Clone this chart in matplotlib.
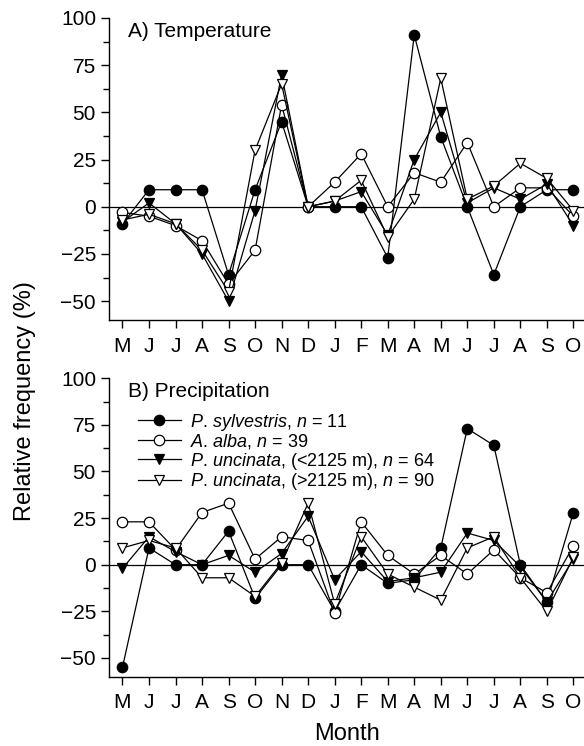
import matplotlib
matplotlib.use('Agg')
import matplotlib.pyplot as plt
from matplotlib.ticker import MultipleLocator

# month axis: May of year t-1 through October of year t
months = ['M', 'J', 'J', 'A', 'S', 'O', 'N', 'D', 'J', 'F', 'M', 'A', 'M', 'J', 'J', 'A', 'S', 'O']

# A) Temperature
temp_sylv = [-9, 9, 9, 9, -36, 9, 45, 0, 0, 0, -27, 91, 37, 0, -36, 0, 9, 9]
temp_alba = [-3, -5, -10, -18, -41, -23, 54, 0, 13, 28, 0, 18, 13, 34, 0, 10, 10, -5]
temp_unc_low = [-8, 2, -9, -25, -50, -2, 70, 0, 3, 8, -15, 25, 50, 2, 10, 4, 12, -10]
temp_unc_high = [-7, -4, -9, -23, -45, 30, 65, 0, 3, 14, -16, 4, 68, 4, 11, 23, 15, -2]

# B) Precipitation
prec_sylv = [-55, 9, 0, 0, 18, -18, 0, 0, -25, 0, -10, -8, 9, 73, 64, 0, -20, 28]
prec_alba = [23, 23, 8, 28, 33, 3, 15, 13, -26, 23, 5, -5, 5, -5, 8, -7, -15, 10]
prec_unc_low = [-2, 15, 7, 0, 5, -4, 6, 26, -8, 7, -9, -7, -4, 17, 13, -1, -20, 3]
prec_unc_high = [9, 13, 9, -7, -7, -17, 1, 33, -21, 15, -5, -12, -19, 9, 15, -7, -25, 4]

labels = [r'$P$. $sylvestris$, $n$ = 11',
          r'$A$. $alba$, $n$ = 39',
          r'$P$. $uncinata$, (<2125 m), $n$ = 64',
          r'$P$. $uncinata$, (>2125 m), $n$ = 90']

plt.rcParams['font.family'] = ['Liberation Sans', 'DejaVu Sans']
plt.rcParams['mathtext.fontset'] = 'custom'
plt.rcParams['mathtext.it'] = 'Liberation Sans:italic'
plt.rcParams['mathtext.rm'] = 'Liberation Sans'

styles = [dict(marker='o', mfc='black'),
          dict(marker='o', mfc='white'),
          dict(marker='v', mfc='black'),
          dict(marker='v', mfc='white')]


def draw_panel(ax, series, title):
    x = range(len(months))
    ax.axhline(0, color='black', linewidth=0.9, zorder=1)
    for vals, st, lab in zip(series, styles, labels):
        ax.plot(x, vals, color='black', linewidth=0.9, markersize=7.5,
                mec='black', mew=0.9, label=lab, zorder=3, **st)
    ax.set_xlim(-0.5, 17.4)
    ax.set_ylim(-60, 100)
    ax.set_xticks(list(x))
    ax.set_xticklabels(months, fontsize=15)
    ax.yaxis.set_major_locator(MultipleLocator(25))
    ax.yaxis.set_minor_locator(MultipleLocator(12.5))
    ax.tick_params(axis='both', which='major', direction='out', length=6,
                   width=1, labelsize=15)
    ax.tick_params(axis='y', which='minor', direction='out', length=4, width=1)
    ax.tick_params(axis='x', pad=6)
    ax.spines['top'].set_visible(False)
    ax.spines['right'].set_visible(False)
    ax.spines['left'].set_linewidth(1)
    ax.spines['bottom'].set_linewidth(1)
    ax.set_yticks([-50, -25, 0, 25, 50, 75, 100])
    ax.set_yticklabels(['\u221250', '\u221225', '0', '25', '50', '75', '100'])
    ax.text(0.04, 0.988, title, transform=ax.transAxes, fontsize=15,
            ha='left', va='top')


fig = plt.figure(figsize=(5.84, 7.46), dpi=100)
ax1 = fig.add_axes([0.187, 0.571, 0.813, 0.405])
ax2 = fig.add_axes([0.187, 0.093, 0.813, 0.400])

draw_panel(ax1, [temp_sylv, temp_alba, temp_unc_low, temp_unc_high], 'A) Temperature')
draw_panel(ax2, [prec_sylv, prec_alba, prec_unc_low, prec_unc_high], 'B) Precipitation')

ax2.legend(loc='upper left', bbox_to_anchor=(0.06, 0.888), frameon=False,
           fontsize=13, handlelength=2.4, handletextpad=0.5,
           labelspacing=-0.03, borderaxespad=0, borderpad=0)

ax2.set_xlabel('Month', fontsize=17, labelpad=8)
fig.text(0.043, 0.462, 'Relative frequency (%)', rotation=90, fontsize=17,
         ha='center', va='center')

fig.savefig('out.png', dpi=100)
